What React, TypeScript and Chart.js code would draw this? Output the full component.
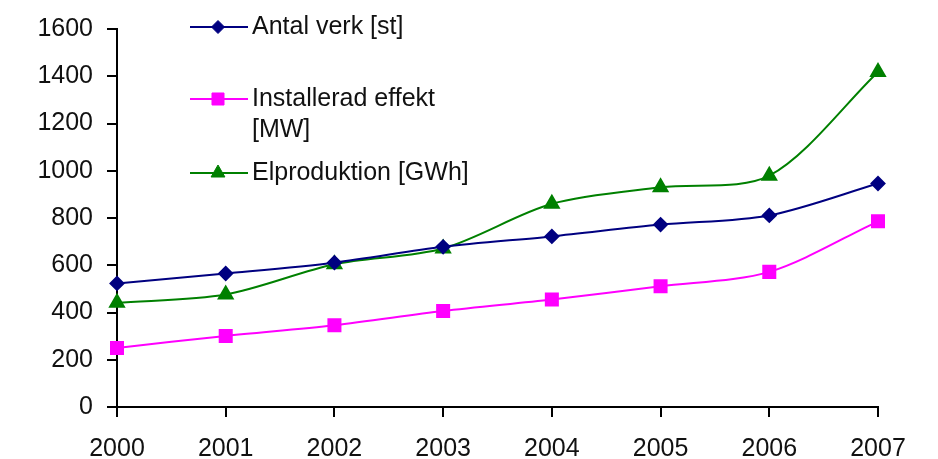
import React, { useEffect, useRef } from "react";
import { Chart, registerables } from "chart.js";
import { drawPoint } from "chart.js/helpers";

Chart.register(...registerables);

const years = ["2000", "2001", "2002", "2003", "2004", "2005", "2006", "2007"];
const antalVerk = [523, 565, 611, 678, 722, 772, 811, 946];
const installeradEffekt = [250, 301, 346, 406, 455, 511, 572, 786];
const elproduktion = [441, 476, 604, 671, 860, 930, 979, 1418];
const yTicks = [0, 200, 400, 600, 800, 1000, 1200, 1400, 1600];
const legendLines = [["Antal verk [st]"], ["Installerad effekt", "[MW]"], ["Elproduktion [GWh]"]];

const FONT = "'Liberation Sans', Arial, sans-serif";
const FS = 25;

const legendPlugin = {
  id: "insideLegend",
  afterDraw(chart: any) {
    const ctx = chart.ctx;
    const rowsY = [27, 99, 173];
    ctx.save();
    chart.data.datasets.forEach((ds: any, i: number) => {
      const y = rowsY[i];
      ctx.strokeStyle = ds.borderColor;
      ctx.lineWidth = ds.borderWidth;
      ctx.beginPath();
      ctx.moveTo(190, y);
      ctx.lineTo(248, y);
      ctx.stroke();
      ctx.fillStyle = ds.pointBackgroundColor;
      ctx.strokeStyle = ds.pointBorderColor;
      ctx.lineWidth = 1;
      drawPoint(ctx, { pointStyle: ds.pointStyle, radius: ds.pointRadius, borderWidth: 1, rotation: 0 } as any, 218, y);
      ctx.fillStyle = "#111";
      ctx.font = `${FS}px ${FONT}`;
      ctx.textBaseline = "middle";
      ctx.textAlign = "left";
      legendLines[i].forEach((t, j) => ctx.fillText(t, 252, y + j * 31));
    });
    ctx.restore();
  },
};

export default function App() {
  const ref = useRef<HTMLCanvasElement>(null);
  useEffect(() => {
    document.body.style.margin = "0";
    const chart = new Chart(ref.current!, {
      type: "line",
      data: {
        labels: years,
        datasets: [
          {
            label: "Antal verk [st]",
            data: antalVerk,
            borderColor: "#000080",
            backgroundColor: "#000080",
            pointBackgroundColor: "#000080",
            pointBorderColor: "#000080",
            pointStyle: "rectRot",
            pointRadius: 6.5,
            borderWidth: 2,
            tension: 0.3,
          },
          {
            label: "Installerad effekt [MW]",
            data: installeradEffekt,
            borderColor: "#ff00ff",
            backgroundColor: "#ff00ff",
            pointBackgroundColor: "#ff00ff",
            pointBorderColor: "#ff00ff",
            pointStyle: "rect",
            pointRadius: 8.5,
            borderWidth: 2,
            tension: 0.3,
          },
          {
            label: "Elproduktion [GWh]",
            data: elproduktion,
            borderColor: "#008000",
            backgroundColor: "#008000",
            pointBackgroundColor: "#008000",
            pointBorderColor: "#008000",
            pointStyle: "triangle",
            pointRadius: 8,
            borderWidth: 2,
            tension: 0.3,
          },
        ],
      },
      options: {
        animation: false,
        responsive: false,
        layout: { padding: { top: 25, right: 60, left: 0, bottom: 0 } },
        plugins: { legend: { display: false }, tooltip: { enabled: false } },
        scales: {
          x: {
            offset: false,
            grid: { display: true, drawOnChartArea: false, drawTicks: true, tickLength: 10, color: "#000", lineWidth: 2, offset: false },
            border: { display: true, color: "#000", width: 2 },
            ticks: { color: "#111", font: { family: FONT, size: FS }, padding: 17, maxRotation: 0 },
            afterFit: (s: any) => { s.height = 52; },
          },
          y: {
            min: 0,
            max: 1600,
            afterBuildTicks: (s: any) => { s.ticks = yTicks.map((v) => ({ value: v })); },
            grid: { display: true, drawOnChartArea: false, drawTicks: true, tickLength: 10, color: "#000", lineWidth: 2 },
            border: { display: true, color: "#000", width: 2 },
            ticks: { color: "#111", font: { family: FONT, size: FS }, padding: 14, callback: (v: any) => String(v) },
            afterFit: (s: any) => { s.width = 117; },
          },
        },
      },
      plugins: [legendPlugin],
    });
    return () => chart.destroy();
  }, []);
  return (
    <div style={{ position: "absolute", left: 0, top: 0, width: 938, height: 459, background: "#fff" }}>
      <canvas ref={ref} width={938} height={459} />
    </div>
  );
}
